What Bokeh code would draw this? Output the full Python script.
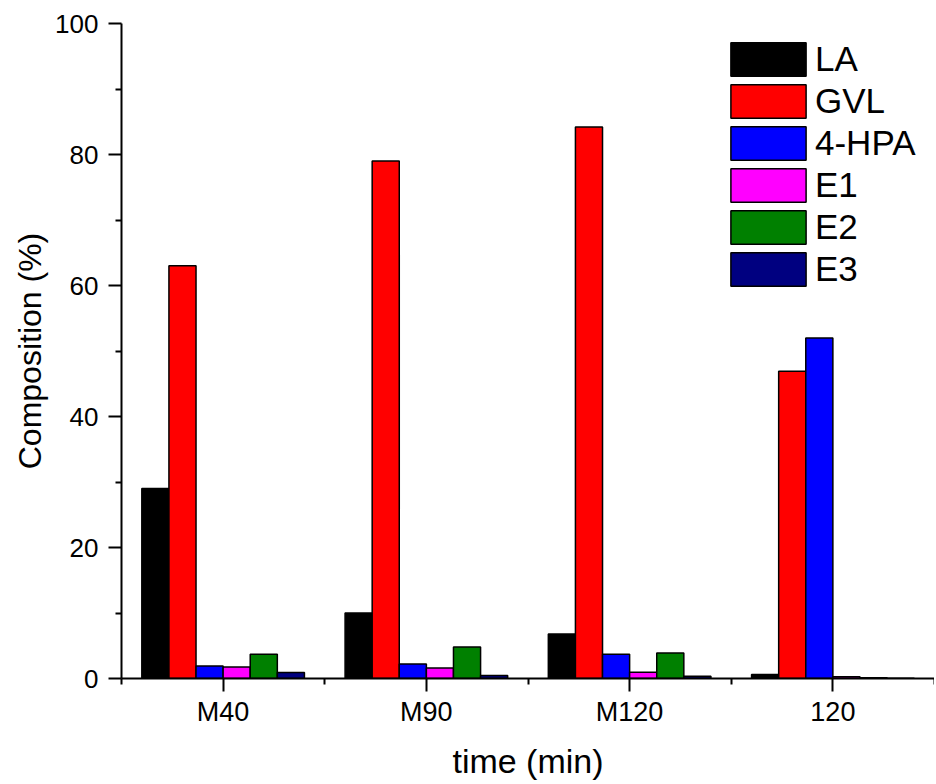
from bokeh.plotting import figure
from bokeh.models import FixedTicker, Range1d, Legend
from bokeh.embed import file_html
from bokeh.resources import INLINE

categories = ["M40", "M90", "M120", "120"]
series_names = ["LA", "GVL", "4-HPA", "E1", "E2", "E3"]
LA = [29.0, 10.0, 6.8, 0.6]
GVL = [63.0, 79.0, 84.2, 46.9]
HPA = [1.9, 2.2, 3.7, 52.0]
E1 = [1.75, 1.6, 0.95, 0.25]
E2 = [3.7, 4.8, 3.9, 0.1]
E3 = [0.9, 0.45, 0.35, 0.05]
y_ticks = [0, 20, 40, 60, 80, 100]
y_minor = [10, 30, 50, 70, 90]

series = [LA, GVL, HPA, E1, E2, E3]
colors = ["#000000", "#FF0000", "#0000FF", "#FF00FF", "#008000", "#000080"]

FONT = "Liberation Sans"

p = figure(frame_width=813, frame_height=655, output_backend="svg", toolbar_location=None,
           x_range=Range1d(0.5, 4.5), y_range=Range1d(0, 100),
           min_border_left=121, min_border_right=0, min_border_top=23, min_border_bottom=105)
p.outline_line_color = None
p.xgrid.visible = False
p.ygrid.visible = False

bw = 0.8 / 6
renderers = []
for i, (name, vals, c) in enumerate(zip(series_names, series, colors)):
    xs = [k + 1 + (i - 2.5) * bw for k in range(len(categories))]
    r = p.vbar(x=xs, top=vals, width=bw, bottom=0, fill_color=c,
               line_color="black", line_width=1.5)
    renderers.append((name, [r]))

legend = Legend(items=renderers, location=(600, 388), padding=0, margin=0,
                spacing=0, glyph_width=94, glyph_height=42, label_height=42,
                label_standoff=0, label_text_font=FONT, label_text_font_size="35px",
                label_text_color="black",
                border_line_color=None, background_fill_alpha=0)
p.add_layout(legend)

# x axis
p.xaxis.ticker = FixedTicker(ticks=[1, 2, 3, 4], minor_ticks=[0.5, 1.5, 2.5, 3.5, 4.5])
p.xaxis.major_label_overrides = {k + 1: c for k, c in enumerate(categories)}
p.xaxis.axis_label = "time (min)"

p.yaxis.ticker = FixedTicker(ticks=y_ticks, minor_ticks=y_minor)
p.yaxis.axis_label = "Composition (%)"

for ax in (p.xaxis, p.yaxis):
    ax.axis_line_width = 2
    ax.axis_line_color = "black"
    ax.major_tick_line_width = 2
    ax.minor_tick_line_width = 2
    ax.major_tick_line_color = "black"
    ax.minor_tick_line_color = "black"
    ax.major_tick_out = 13
    ax.major_tick_in = 0
    ax.minor_tick_out = 6
    ax.minor_tick_in = 0
    ax.major_label_text_font = FONT
    ax.major_label_text_color = "black"
    ax.axis_label_text_font = FONT
    ax.axis_label_text_font_style = "normal"
    ax.axis_label_text_color = "black"

p.xaxis.major_label_text_font_size = "27px"
p.yaxis.major_label_text_font_size = "26px"
p.xaxis.axis_label_text_font_size = "34px"
p.yaxis.axis_label_text_font_size = "32px"
p.xaxis.major_label_standoff = 5
p.yaxis.major_label_standoff = 10
p.xaxis.axis_label_standoff = 12
p.yaxis.axis_label_standoff = 4

open("out.html", "w").write(file_html(p, INLINE))
